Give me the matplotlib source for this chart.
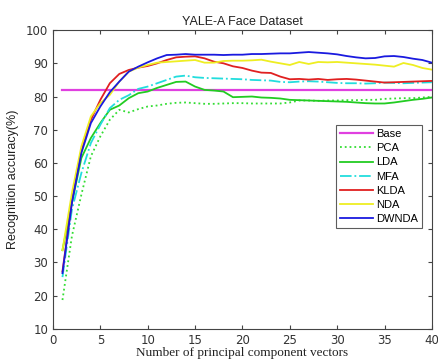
import matplotlib
matplotlib.use("Agg")
import matplotlib.pyplot as plt
import numpy as np

x = list(range(1, 41))
base = 82.0
pca = [18.7, 38, 50.5, 62, 68, 73, 76, 75.2, 76.2, 77, 77.3, 77.8, 78.1, 78.2, 78, 77.8, 77.8, 77.9, 78, 78,
       77.9, 77.9, 77.9, 77.9, 78.2, 78.8, 78.8, 78.7, 78.8, 78.8, 78.9, 78.9, 79, 79, 79.3, 79.4, 79.5, 79.5, 79.7, 79.9]
lda = [33.7, 48, 61.5, 67.5, 72, 76, 77.3, 79.5, 81, 81.5, 82.6, 83.5, 84.4, 84.5, 83, 82, 81.8, 81.5, 79.8, 79.9,
       80, 79.7, 79.6, 79.4, 79, 78.9, 78.8, 78.7, 78.6, 78.5, 78.4, 78.2, 78, 77.9, 77.9, 78.2, 78.6, 79, 79.3, 79.7]
mfa = [25.6, 46, 57, 66, 71.5, 76.5, 79, 80.4, 82.3, 83, 84, 85, 86, 86.3, 85.8, 85.6, 85.5, 85.4, 85.3, 85.2,
       85, 84.9, 84.8, 84.4, 84.3, 84.5, 84.6, 84.5, 84.3, 84.1, 84, 84, 83.9, 84, 84.2, 84.1, 84, 84.1, 84.2, 84.3]
klda = [27.3, 48.5, 64, 73, 79, 84, 86.8, 88, 88.7, 89.2, 90, 91, 91.8, 92, 92.1, 91.5, 90.5, 90, 89.1, 88.6,
        87.8, 87.2, 87.1, 86, 85.2, 85.3, 85.1, 85.3, 85, 85.2, 85.3, 85.1, 84.8, 84.5, 84.2, 84.3, 84.4, 84.5, 84.6, 84.7]
nda = [33.7, 51, 65, 74, 78, 80.5, 84.5, 87.5, 88.7, 89.5, 90.2, 90.4, 90.6, 90.8, 91, 90.2, 90.2, 90.7, 90.8, 90.8,
       90.9, 91.1, 90.5, 90, 89.5, 90.4, 89.8, 90.4, 90.3, 90.4, 90.2, 90.0, 89.8, 89.6, 89.3, 89, 90.1, 89.5, 88.6, 88.1]
dwnda = [26.8, 48, 63, 72, 77, 81.3, 84.5, 87.5, 89, 90.3, 91.5, 92.5, 92.6, 92.8, 92.6, 92.6, 92.6, 92.5, 92.6, 92.6,
         92.8, 92.8, 92.9, 93.0, 93.0, 93.2, 93.4, 93.2, 93.0, 92.7, 92.2, 91.8, 91.5, 91.6, 92.1, 92.2, 91.9, 91.4, 91.0, 90.2]

fig = plt.figure(figsize=(4.38, 3.63), dpi=100)
ax = fig.add_axes([0.121, 0.094, 0.865, 0.823])

lw = 1.3
ax.plot(x, [base] * len(x), color='#e040e0', lw=1.6, label='Base')
ax.plot(x, pca, color='#33dd33', lw=lw, ls=':', label='PCA')
ax.plot(x, lda, color='#22cc22', lw=lw, label='LDA')
ax.plot(x, mfa, color='#22dddd', lw=lw, ls='-.', label='MFA')
ax.plot(x, klda, color='#e02020', lw=lw, label='KLDA')
ax.plot(x, nda, color='#eeee22', lw=lw, label='NDA')
ax.plot(x, dwnda, color='#1a1adf', lw=lw, label='DWNDA')

ax.set_xlim(0, 40)
ax.set_ylim(10, 100)
ax.set_xticks(range(0, 41, 5))
ax.set_yticks(range(10, 101, 10))
ax.tick_params(direction='in', top=True, right=True, labelsize=8.5, colors='#444444',
               length=3, width=0.8)
for lab in ax.get_xticklabels() + ax.get_yticklabels():
    lab.set_color('#333333')
for s in ax.spines.values():
    s.set_color('#444444')
    s.set_linewidth(0.8)

ax.set_title('YALE-A Face Dataset', fontsize=9, family='Liberation Sans', color='#222222', pad=4)
ax.set_ylabel('Recognition accuracy(%)', fontsize=9, family='Liberation Sans', color='#222222', labelpad=5)
ax.set_xlabel('Number of principal component vectors', fontsize=9.5, family='Liberation Serif',
              color='#222222', labelpad=0)

leg = ax.legend(loc='upper right', bbox_to_anchor=(0.974, 0.682), borderaxespad=0, frameon=True,
                fancybox=False, edgecolor='#333333', handlelength=3.0, borderpad=0.35,
                labelspacing=0.38, handletextpad=0.3, prop={'family': 'Liberation Sans', 'size': 8})
leg.get_frame().set_linewidth(0.8)

fig.savefig('out.png', dpi=100)
